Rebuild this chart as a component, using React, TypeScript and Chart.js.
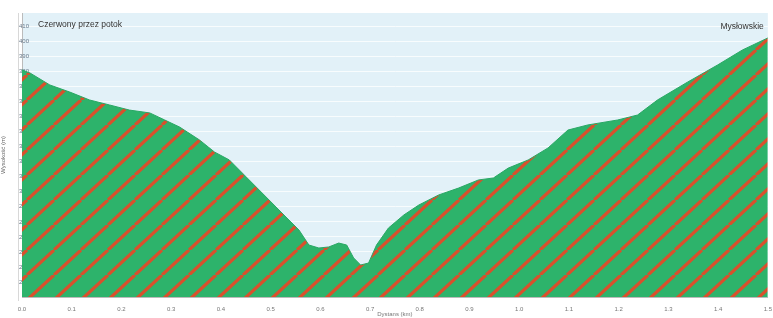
import React, { useEffect, useRef } from "react";
import { Chart, registerables } from "chart.js";

Chart.register(...registerables);

const distancesKm = [
  0.0, 0.016, 0.056, 0.096, 0.136, 0.176, 0.216, 0.257, 0.287, 0.317, 0.357, 0.387, 0.417,
  0.447, 0.477, 0.507, 0.537, 0.557, 0.577, 0.597, 0.617, 0.637, 0.653, 0.667, 0.681, 0.697,
  0.713, 0.737, 0.768, 0.798, 0.838, 0.878, 0.918, 0.948, 0.978, 1.018, 1.058, 1.098, 1.138,
  1.198, 1.238, 1.278, 1.339, 1.399, 1.449, 1.5,
];
const elevationsM = [
  381.1, 379.1, 371.1, 366.4, 361.1, 357.8, 354.4, 352.5, 347.8, 343.1, 334.5, 326.5, 321.2,
  311.2, 301.2, 291.2, 281.2, 274.6, 264.6, 262.6, 263.3, 265.9, 264.6, 256.0, 251.3, 252.6,
  264.6, 275.9, 284.6, 291.2, 297.9, 302.5, 307.9, 309.2, 315.8, 321.2, 329.2, 341.1, 344.5,
  347.8, 351.1, 361.1, 373.1, 384.4, 394.4, 402.4,
];
const startLabel = "Czerwony przez potok";
const endLabel = "Mysłowskie";
const xTitle = "Dystans (km)";
const yTitle = "Wysokość (m)";

function makePattern(): CanvasPattern | string {
  const P = 27;
  const Q = 25;
  const c = document.createElement("canvas");
  c.width = P;
  c.height = Q;
  const g = c.getContext("2d");
  if (!g) return "#2db36b";
  g.fillStyle = "#2db36b";
  g.fillRect(0, 0, P, Q);
  g.strokeStyle = "#d9502c";
  g.lineWidth = 3.2;
  for (let k = -1; k <= 1; k++) {
    g.beginPath();
    g.moveTo(k * P, Q);
    g.lineTo(k * P + P, 0);
    g.stroke();
  }
  const pat = g.createPattern(c, "repeat");
  return pat || "#2db36b";
}

export default function App() {
  const ref = useRef<HTMLCanvasElement>(null);
  useEffect(() => {
    if (!ref.current) return;
    const pattern = makePattern();
    const bgPlugin = {
      id: "bg",
      beforeDraw(chart: any) {
        const { ctx, chartArea } = chart;
        ctx.save();
        ctx.fillStyle = "#ffffff";
        ctx.fillRect(0, 0, chart.width, chart.height);
        ctx.fillStyle = "#e2f1f8";
        ctx.fillRect(chartArea.left, chartArea.top, chartArea.right - chartArea.left, chartArea.bottom - chartArea.top);
        ctx.strokeStyle = "#d8d8d8";
        ctx.lineWidth = 1;
        ctx.beginPath();
        ctx.moveTo(18.5, chartArea.top);
        ctx.lineTo(18.5, chartArea.bottom + 4);
        ctx.stroke();
        ctx.restore();
      },
      afterDatasetsDraw(chart: any) {
        const { ctx, chartArea } = chart;
        ctx.save();
        ctx.font = "8.5px 'Liberation Sans', Arial, sans-serif";
        ctx.fillStyle = "#333333";
        ctx.textBaseline = "middle";
        ctx.textAlign = "left";
        ctx.fillText(startLabel, chartArea.left + 16, chartArea.top + 12);
        ctx.textAlign = "right";
        ctx.fillText(endLabel, chartArea.right - 4, chartArea.top + 14);
        ctx.restore();
      },
    };
    const chart = new Chart(ref.current, {
      type: "line",
      data: {
        datasets: [
          {
            data: distancesKm.map((d, i) => ({ x: d, y: elevationsM[i] })),
            backgroundColor: pattern as any,
            borderColor: "#2aa865",
            borderWidth: 1,
            pointRadius: 0,
            fill: "start",
            tension: 0,
          },
        ],
      },
      options: {
        animation: false,
        responsive: false,
        layout: { padding: { top: 13, right: 3, left: 0, bottom: 0 } },
        plugins: { legend: { display: false }, tooltip: { enabled: false } },
        scales: {
          x: {
            type: "linear",
            min: 0,
            max: 1.5,
            afterFit(scale: any) {
              scale.height = 21;
            },
            ticks: {
              stepSize: 0.1,
              maxRotation: 0,
              autoSkip: false,
              padding: 1,
              color: "#777777",
              font: { size: 6, family: "'Liberation Sans', Arial, sans-serif" },
              callback: (v: any) => Number(v).toFixed(1),
            },
            grid: { display: false },
            border: { display: true, color: "#bbbbbb" },
            title: {
              display: true,
              text: xTitle,
              color: "#777777",
              padding: { top: 0, bottom: 0 },
              font: { size: 6, family: "'Liberation Sans', Arial, sans-serif" },
            },
          },
          y: {
            min: 230,
            max: 419,
            afterBuildTicks(scale: any) {
              scale.ticks = scale.ticks.filter((t: any) => Math.round(t.value) % 10 === 0 && t.value > 230);
            },
            afterFit(scale: any) {
              scale.width = 22;
            },
            ticks: {
              stepSize: 10,
              mirror: true,
              padding: -3,
              color: "#667788",
              font: { size: 6, family: "'Liberation Sans', Arial, sans-serif" },
            },
            grid: { color: "rgba(255,255,255,0.75)", lineWidth: 1, drawTicks: false },
            border: { display: true, color: "#bbbbbb" },
            title: {
              display: true,
              text: yTitle,
              color: "#666666",
              padding: { top: 0, bottom: 2 },
              font: { size: 6, family: "'Liberation Sans', Arial, sans-serif" },
            },
          },
        },
      },
      plugins: [bgPlugin],
    });
    return () => chart.destroy();
  }, []);
  return (
    <div style={{ position: "fixed", left: 0, top: 0, width: 773, height: 318 }}>
      <canvas ref={ref} width={773} height={318} style={{ width: 773, height: 318 }} />
    </div>
  );
}
